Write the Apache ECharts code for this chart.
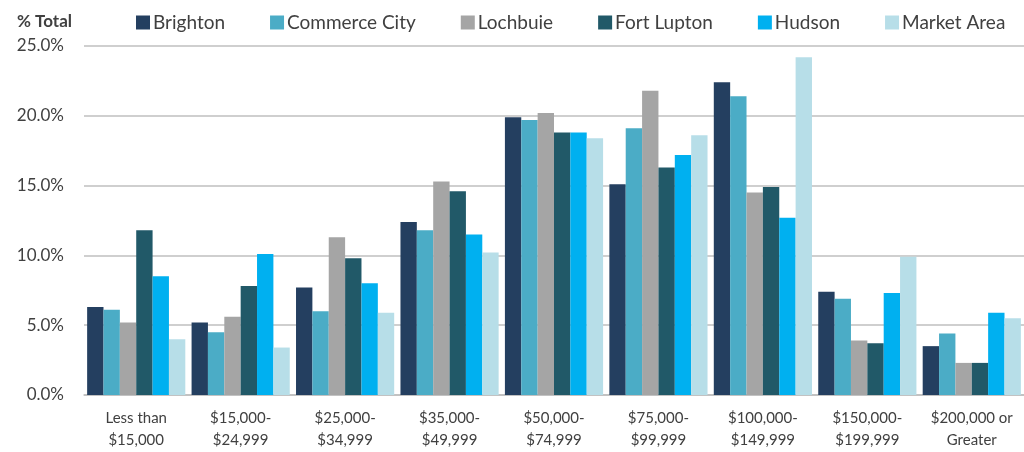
<!DOCTYPE html>
<html>
<head>
<meta charset="utf-8">
<script src="https://cdn.jsdelivr.net/npm/echarts@6/dist/echarts.min.js"></script>
<style>
  html, body { margin: 0; padding: 0; background: #fff; }
  #chart { width: 1024px; height: 452px; }
</style>
</head>
<body>
<div id="chart"></div>
<script>
  // income brackets
  var categories = ['Less than\n$15,000', '$15,000-\n$24,999', '$25,000-\n$34,999', '$35,000-\n$49,999',
    '$50,000-\n$74,999', '$75,000-\n$99,999', '$100,000-\n$149,999', '$150,000-\n$199,999', '$200,000 or\nGreater'];

  var brighton     = [6.3, 5.2, 7.7, 12.4, 19.9, 15.1, 22.4, 7.4, 3.5];
  var commerceCity = [6.1, 4.5, 6.0, 11.8, 19.7, 19.1, 21.4, 6.9, 4.4];
  var lochbuie     = [5.2, 5.6, 11.3, 15.3, 20.2, 21.8, 14.5, 3.9, 2.3];
  var fortLupton   = [11.8, 7.8, 9.8, 14.6, 18.8, 16.3, 14.9, 3.7, 2.3];
  var hudson       = [8.5, 10.1, 8.0, 11.5, 18.8, 17.2, 12.7, 7.3, 5.9];
  var marketArea   = [4.0, 3.4, 5.9, 10.2, 18.4, 18.6, 24.2, 9.9, 5.5];

  var names = ['Brighton', 'Commerce City', 'Lochbuie', 'Fort Lupton', 'Hudson', 'Market Area'];
  var values = [brighton, commerceCity, lochbuie, fortLupton, hudson, marketArea];
  var colors = ['#243F60', '#4BACC6', '#A5A5A5', '#215968', '#00B0F0', '#B7DEE8'];

  var font = 'Lato, "Open Sans", sans-serif';
  var chart = echarts.init(document.getElementById('chart'));

  var series = [];
  for (var i = 0; i < names.length; i++) {
    series.push({
      name: names[i],
      type: 'bar',
      data: values[i],
      barGap: '0%',
      barCategoryGap: '6%',
      itemStyle: { color: colors[i] }
    });
  }

  var option = {
    animation: false,
    color: colors,
    textStyle: { fontFamily: font },
    title: {
      text: '% Total',
      left: 12,
      top: 8,
      textStyle: { fontSize: 17, fontWeight: 'bold', color: '#404040', fontFamily: font }
    },
    legend: {
      left: 131,
      top: 8,
      itemWidth: 14,
      itemHeight: 14,
      itemGap: 45,
      icon: 'rect',
      textStyle: { fontSize: 19, color: '#404040', fontFamily: font, padding: [0, 0, 0, -2] },
      data: names
    },
    grid: { left: 84, right: -7, top: 46, bottom: 57 },
    xAxis: {
      type: 'category',
      data: categories,
      axisTick: { show: false },
      axisLine: { lineStyle: { color: '#BFBFBF', width: 1.5 } },
      axisLabel: { interval: 0, color: '#404040', fontSize: 15, lineHeight: 22, margin: 12, fontFamily: font }
    },
    yAxis: {
      type: 'value',
      min: 0,
      max: 25,
      interval: 5,
      axisLine: { show: false },
      axisTick: { show: false },
      splitLine: { lineStyle: { color: '#BFBFBF', width: 1.5 } },
      axisLabel: {
        color: '#404040', fontSize: 17, margin: 20, fontFamily: font,
        formatter: function (v) { return v.toFixed(1) + '%'; }
      }
    },
    series: series
  };
  chart.setOption(option);
</script>
</body>
</html>
